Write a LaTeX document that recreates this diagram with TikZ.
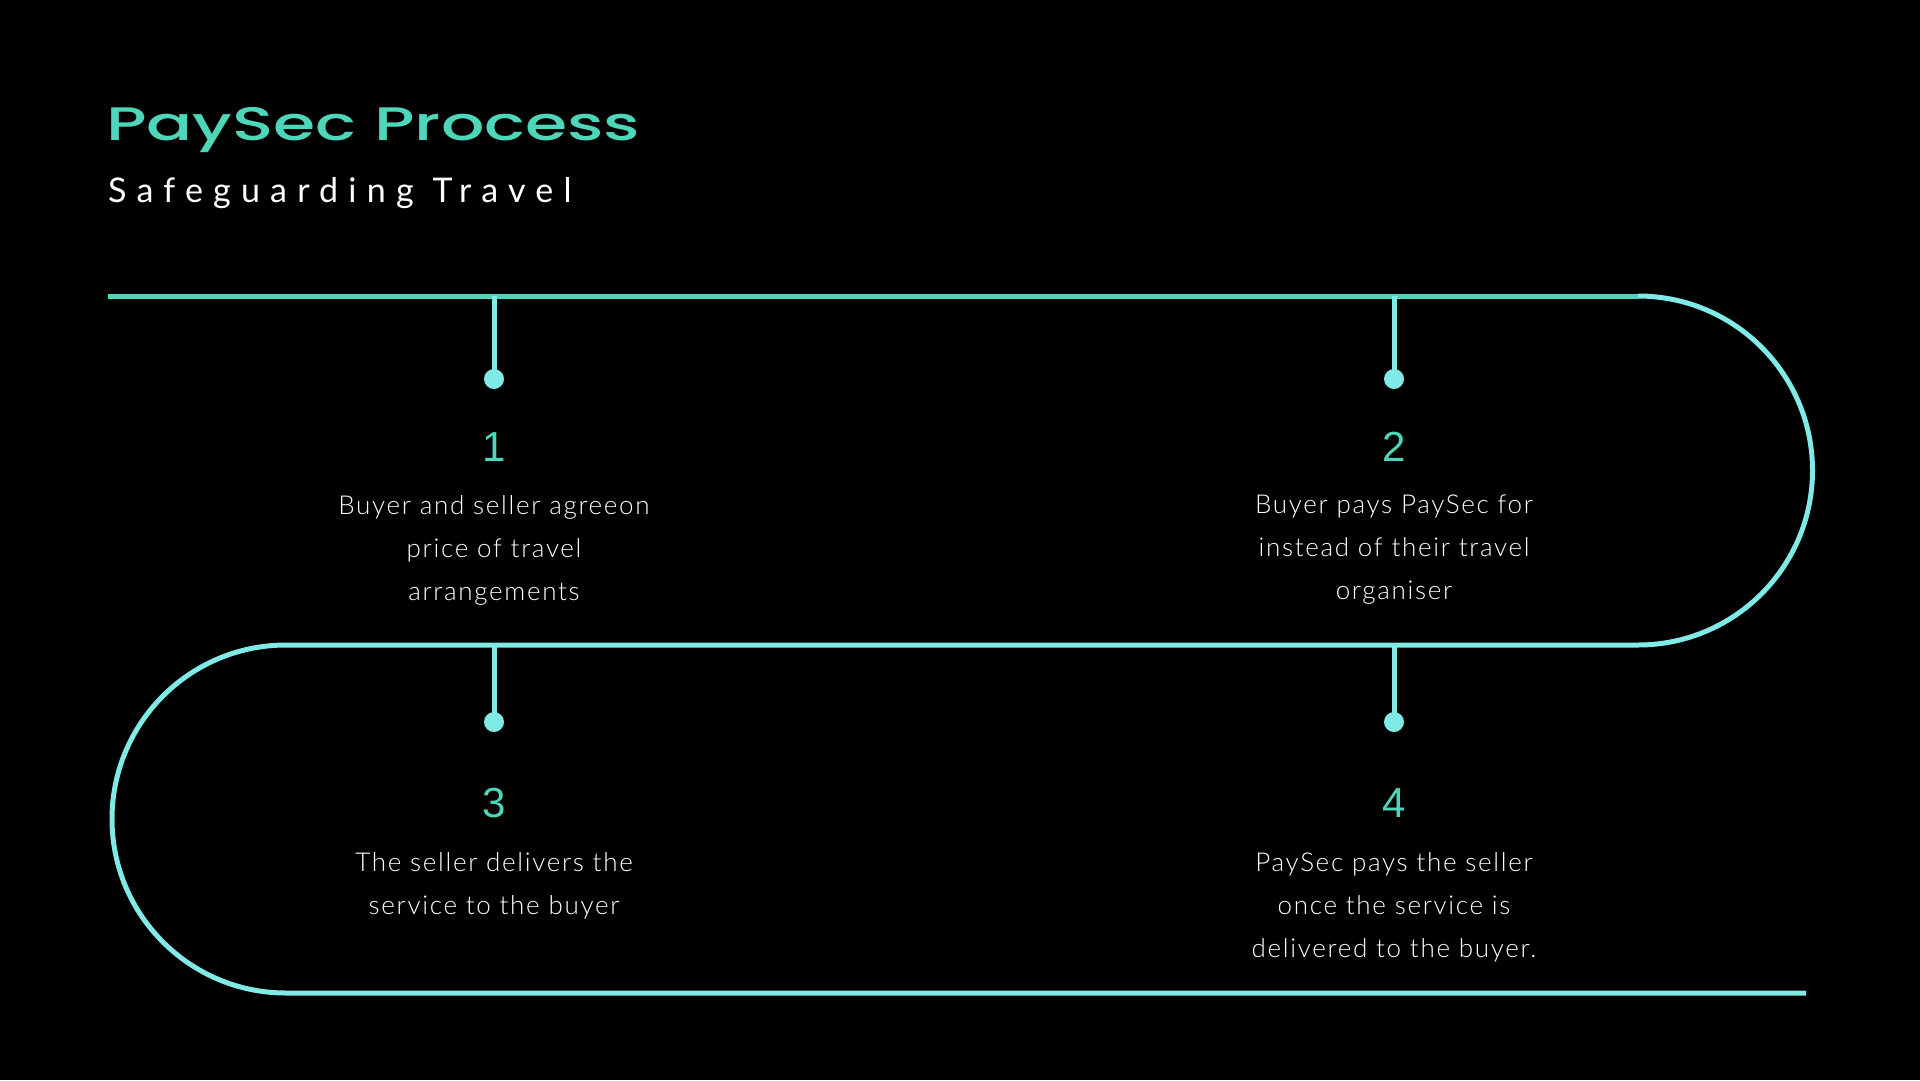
\documentclass[tikz,border=0pt]{standalone}
\usepackage{fontspec}
\setmainfont{Lato}[UprightFont={* Light}, LetterSpace=6.5]
\newfontfamily\titlefont[FakeStretch=1.45]{Poppins Medium}
\newfontfamily\subfont[LetterSpace=30]{Lato}
\newfontfamily\numfont{Liberation Sans}
\definecolor{teal}{HTML}{4ED6BB}
\definecolor{cyanl}{HTML}{80EAE6}
\tikzset{
  track/.style={line width=5pt},
  stem/.style={line width=5pt, cyanl},
  dotn/.style={circle, fill=cyanl, minimum size=20pt, inner sep=0pt},
  numn/.style={font=\numfont\fontsize{42}{42}\selectfont, text=teal, inner sep=0pt},
  desc/.style={font=\fontsize{26}{43}\selectfont, text=white, align=center, inner sep=0pt, anchor=north},
}
\begin{document}
\begin{tikzpicture}[x=1pt,y=-1pt]
\fill[black] (0,0) rectangle (1920,1080);
\useasboundingbox (0,0) rectangle (1920,1080);
% title
\node[anchor=base west, inner sep=0pt, text=teal, font=\titlefont\fontsize{47}{47}\selectfont] (title) at (106,140) {PaySec Process};
\node[anchor=base west, inner sep=0pt, text=white, font=\subfont\fontsize{34}{34}\selectfont] (sub) at (108,202) {Safeguarding Travel};
% track
\coordinate (a0) at (108,296);
\coordinate (a1) at (1638,296);
\coordinate (b1) at (1638,645);
\coordinate (b0) at (286,645);
\coordinate (c0) at (286,993);
\coordinate (c1) at (1806,993);
\draw[track, teal] (a0) -- (a1);
\draw[track, cyanl] (a1) arc[start angle=-90, end angle=90, radius=174.5] -- (b0)
  arc[start angle=-90, end angle=-270, radius=174] -- (c1);
% stems
\coordinate (t1) at (494,296);
\coordinate (t2) at (1394,296);
\coordinate (t3) at (494,645);
\coordinate (t4) at (1394,645);
\node[dotn] (d1) at (494,379) {};
\node[dotn] (d2) at (1394,379) {};
\node[dotn] (d3) at (494,722) {};
\node[dotn] (d4) at (1394,722) {};
\draw[stem] (t1) -- (d1.center);
\draw[stem] (t2) -- (d2.center);
\draw[stem] (t3) -- (d3.center);
\draw[stem] (t4) -- (d4.center);
% numbers
\node[numn] (n1) at (494,447) {1};
\node[numn] (n2) at (1394,447) {2};
\node[numn] (n3) at (494,803) {3};
\node[numn] (n4) at (1394,803) {4};
% descriptions
\node[desc] (x1) at (494,495) {Buyer and seller agreeon\\price of travel\\arrangements};
\node[desc] (x2) at (1394,495) {Buyer pays PaySec for\\instead of their travel\\organiser};
\node[desc] (x3) at (494,852) {The seller delivers the\\service to the buyer};
\node[desc] (x4) at (1394,852) {PaySec pays the seller\\once the service is\\delivered to the buyer.};
\end{tikzpicture}
\end{document}
